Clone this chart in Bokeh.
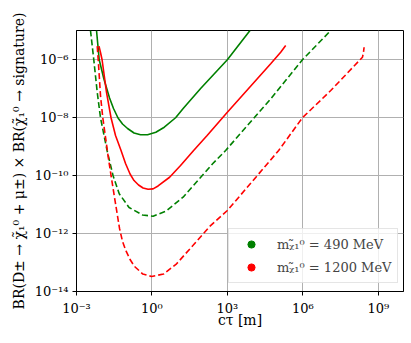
from bokeh.plotting import figure
from bokeh.models import FixedTicker, Legend, LegendItem, Range1d
from bokeh.embed import file_html
from bokeh.resources import INLINE

# --- data (c*tau in m, branching-ratio product) ---
g_solid_x = [6.25e-3, 8.0e-3, 1.22e-2, 2.06e-2, 2.96e-2, 4.48e-2, 6.76e-2, 0.107, 0.194, 0.352, 0.668, 1.43, 3.09, 8.7, 18.1, 86.0, 993.0, 7.9e3]
g_solid_y = [1.0e-5, 9.8e-7, 2.16e-7, 4.7e-8, 2.04e-8, 9.6e-9, 5.97e-9, 4.18e-9, 2.92e-9, 2.55e-9, 2.53e-9, 3.11e-9, 4.63e-9, 9.8e-9, 2.13e-8, 1.0e-7, 9.8e-7, 1.0e-5]

r_solid_x = [7.85e-3, 9.0e-3, 1.04e-2, 1.56e-2, 2.36e-2, 3.56e-2, 5.9e-2, 8.9e-2, 0.1346, 0.194, 0.293, 0.443, 0.70, 1.11, 1.75, 5.02, 13.7, 45.3, 156.0, 993.0, 5.25e4, 1.31e5, 2.07e5]
r_solid_y = [2.88e-6, 1.74e-6, 9.8e-7, 7.4e-8, 9.8e-9, 2.39e-9, 7.3e-10, 2.6e-10, 1.13e-10, 6.7e-11, 4.7e-11, 3.7e-11, 3.34e-11, 3.47e-11, 4.35e-11, 8.7e-11, 2.2e-10, 7.3e-10, 2.39e-9, 1.52e-8, 7.1e-7, 1.79e-6, 3.04e-6]

g_dash_x = [3.6e-3, 4.87e-3, 6.67e-3, 9.0e-3, 1.64e-2, 2.83e-2, 5.0e-2, 0.123, 0.423, 1.11, 3.64, 17.3, 78.5, 258.0, 850.0, 5.25e4, 9.6e5, 1.28e7]
g_dash_y = [1.0e-5, 9.8e-7, 7.4e-8, 9.8e-9, 7.3e-10, 1.0e-10, 2.34e-11, 7.9e-12, 4.35e-12, 3.95e-12, 5.97e-12, 1.79e-11, 7.9e-11, 2.53e-10, 7.3e-10, 4.4e-8, 9.8e-7, 1.0e-5]

r_dash_x = [6.67e-3, 7.3e-3, 9.0e-3, 1.11e-2, 1.43e-2, 1.79e-2, 2.36e-2, 3.4e-2, 5.14e-2, 6.76e-2, 9.3e-2, 0.1346, 0.203, 0.434, 0.966, 2.9, 9.5, 44.0, 196.0, 993.0, 1.55e4, 1.09e5, 9.6e5, 1.28e7, 2.34e8, 2.56e8, 2.71e8]
r_dash_y = [2.88e-6, 9.8e-7, 5.7e-8, 9.8e-9, 2.04e-9, 4.9e-10, 1.0e-10, 1.37e-11, 1.49e-12, 5.3e-13, 2.5e-13, 1.27e-13, 7.3e-14, 4.0e-14, 3.3e-14, 4.0e-14, 9.0e-14, 4.0e-13, 1.74e-12, 6.2e-12, 1.0e-10, 7.3e-10, 9.8e-9, 8.5e-8, 1.2e-6, 1.74e-6, 2.65e-6]

x_ticks = [1e-3, 1e0, 1e3, 1e6, 1e9]
x_tick_labels = ["10⁻³", "10⁰", "10³", "10⁶", "10⁹"]
y_ticks = [1e-14, 1e-12, 1e-10, 1e-8, 1e-6]
y_tick_labels = ["10⁻¹⁴", "10⁻¹²", "10⁻¹⁰", "10⁻⁸", "10⁻⁶"]

legend_labels = ["mᵪ̃₁⁰ = 490 MeV", "mᵪ̃₁⁰ = 1200 MeV"]
x_label = "cτ [m]"
y_label = "BR(D± → χ̃₁⁰ + μ±) × BR(χ̃₁⁰ → signature)"

FONT = "DejaVu Serif"
GREEN = "#008000"
RED = "#ff0000"

p = figure(width=411, height=343, x_axis_type="log", y_axis_type="log",
           x_range=Range1d(1e-3, 1e10), y_range=Range1d(1e-14, 1e-5),
           output_backend="svg", toolbar_location=None,
           min_border_left=76, min_border_right=8, min_border_top=30, min_border_bottom=52)

xt = FixedTicker(ticks=x_ticks, minor_ticks=[])
yt = FixedTicker(ticks=y_ticks, minor_ticks=[])
p.xaxis.ticker = xt
p.yaxis.ticker = yt
p.xgrid.ticker = xt
p.ygrid.ticker = yt
p.xaxis.major_label_overrides = dict(zip(x_ticks, x_tick_labels))
p.yaxis.major_label_overrides = dict(zip(y_ticks, y_tick_labels))

for ax in (p.xaxis, p.yaxis):
    ax.axis_line_color = "black"
    ax.major_tick_line_color = "black"
    ax.minor_tick_line_color = None
    ax.major_tick_out = 4
    ax.major_tick_in = 0
    ax.major_label_text_font = FONT
    ax.major_label_text_font_size = "13px"
    ax.major_label_text_color = "black"
    ax.axis_label_text_font = FONT
    ax.axis_label_text_font_size = "14px"
    ax.axis_label_text_font_style = "normal"
    ax.axis_label_text_color = "black"

p.xaxis.major_label_standoff = 5
p.yaxis.major_label_standoff = 4
p.xaxis.axis_label = x_label
p.yaxis.axis_label = y_label
p.xaxis.axis_label_standoff = -7
p.yaxis.axis_label_standoff = 5

p.xgrid.grid_line_color = "#b0b0b0"
p.ygrid.grid_line_color = "#b0b0b0"
p.xgrid.grid_line_width = 1
p.ygrid.grid_line_width = 1

p.outline_line_color = "black"
p.outline_line_alpha = 1
p.outline_line_width = 1
p.background_fill_color = "white"
p.border_fill_color = "white"

LW = 1.6
p.line(g_solid_x, g_solid_y, line_color=GREEN, line_width=LW)
p.line(r_solid_x, r_solid_y, line_color=RED, line_width=LW)
p.line(g_dash_x, g_dash_y, line_color=GREEN, line_width=LW, line_dash="6 3")
p.line(r_dash_x, r_dash_y, line_color=RED, line_width=LW, line_dash="6 3")

# legend markers: scatter renderers mapped onto a side range so that nothing
# is drawn inside the frame; only their legend glyphs are seen
p.extra_y_ranges = {"legend_only": Range1d(1.0, 2.0)}
g_leg = p.scatter(g_solid_x[:1], g_solid_y[:1], y_range_name="legend_only",
                  marker="circle", size=7, fill_color=GREEN, line_color=GREEN)
r_leg = p.scatter(r_solid_x[:1], r_solid_y[:1], y_range_name="legend_only",
                  marker="circle", size=7, fill_color=RED, line_color=RED)

legend = Legend(items=[LegendItem(label=legend_labels[0], renderers=[g_leg]),
                       LegendItem(label=legend_labels[1], renderers=[r_leg])],
                location=(152, 8), margin=0, padding=6, spacing=5,
                glyph_width=32, glyph_height=18, label_height=18,
                label_standoff=10,
                label_text_font=FONT, label_text_font_size="13px",
                border_line_color="#cccccc", border_line_width=1,
                background_fill_color="white", background_fill_alpha=0.8)
p.add_layout(legend, "center")

open("out.html", "w").write(file_html(p, INLINE))
